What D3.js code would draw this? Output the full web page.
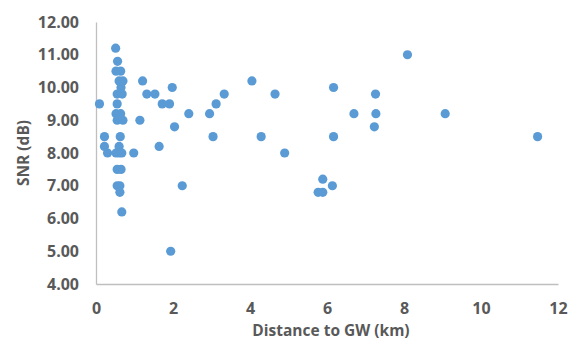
<!DOCTYPE html>
<html>
<head>
<meta charset="utf-8">
<script src="https://cdn.jsdelivr.net/npm/d3@7"></script>
<style>
  body { margin: 0; background: #fff; }
  svg text { font-family: 'Open Sans', sans-serif; font-weight: 700; fill: #595959; }
</style>
</head>
<body>
<div id="chart"></div>
<script>
// distance to gateway (km)
const distance = [
  0.09, 0.22, 0.22, 0.30,
  0.51, 0.56, 0.52, 0.64, 0.60, 0.70, 0.65, 0.55, 0.68, 0.55,
  0.52, 0.64, 0.55, 0.70, 0.63, 0.60, 0.52, 0.60, 0.67, 0.98,
  0.55, 0.65, 0.55, 0.62, 0.62, 0.67,
  1.14, 1.21, 1.32, 1.53, 1.64, 1.72, 1.91, 1.94, 1.98, 2.04, 2.24,
  2.41, 2.95, 3.04, 3.12, 3.33, 4.05, 4.29, 4.65, 4.90,
  5.77, 5.89, 5.89, 6.14, 6.17, 6.17, 6.70, 7.23, 7.26, 7.27,
  8.09, 9.07, 11.47
];
// SNR (dB)
const snr = [
  9.5, 8.5, 8.2, 8.0,
  11.2, 10.8, 10.5, 10.5, 10.2, 10.2, 10.0, 9.8, 9.8, 9.5,
  9.2, 9.2, 9.0, 9.0, 8.5, 8.2, 8.0, 8.0, 8.0, 8.0,
  7.5, 7.5, 7.0, 7.0, 6.8, 6.2,
  9.0, 10.2, 9.8, 9.8, 8.2, 9.5, 9.5, 5.0, 10.0, 8.8, 7.0,
  9.2, 9.2, 8.5, 9.5, 9.8, 10.2, 8.5, 9.8, 8.0,
  6.8, 6.8, 7.2, 7.0, 10.0, 8.5, 9.2, 8.8, 9.8, 9.2,
  11.0, 9.2, 8.5
];
const xTicks = [0, 2, 4, 6, 8, 10, 12];
const yTicks = [4, 5, 6, 7, 8, 9, 10, 11, 12];

const width = 572, height = 341;
const margin = { top: 22, right: 14, bottom: 57, left: 96 };

const svg = d3.select('#chart').append('svg')
  .attr('width', width)
  .attr('height', height);

const x = d3.scaleLinear().domain([0, 12]).range([margin.left, width - margin.right]);
const y = d3.scaleLinear().domain([4, 12]).range([height - margin.bottom, margin.top]);

const xAxis = svg.append('g')
  .attr('transform', `translate(0,${height - margin.bottom})`)
  .call(d3.axisBottom(x).tickValues(xTicks).tickSize(0).tickPadding(19).tickFormat(d3.format('d')));
const yAxis = svg.append('g')
  .attr('transform', `translate(${margin.left},0)`)
  .call(d3.axisLeft(y).tickValues(yTicks).tickSize(0).tickPadding(17).tickFormat(d3.format('.2f')));

[xAxis, yAxis].forEach(a => {
  a.select('.domain').attr('stroke', '#bfbfbf').attr('stroke-width', 1.3);
  a.selectAll('text').attr('font-size', 16).attr('fill', '#595959')
    .attr('font-family', "'Open Sans', sans-serif").attr('font-weight', 700);
});

svg.append('g')
  .selectAll('circle')
  .data(distance.map((d, i) => [d, snr[i]]))
  .join('circle')
    .attr('cx', d => x(d[0]))
    .attr('cy', d => y(d[1]))
    .attr('r', 4.6)
    .attr('fill', '#5b9bd5');

svg.append('text')
  .attr('x', (margin.left + width - margin.right) / 2 + 4)
  .attr('y', 336)
  .attr('text-anchor', 'middle')
  .attr('font-size', 15.5)
  .text('Distance to GW (km)');

svg.append('text')
  .attr('transform', `translate(29,${(margin.top + height - margin.bottom) / 2}) rotate(-90)`)
  .attr('text-anchor', 'middle')
  .attr('font-size', 15.5)
  .text('SNR (dB)');
</script>
</body>
</html>
